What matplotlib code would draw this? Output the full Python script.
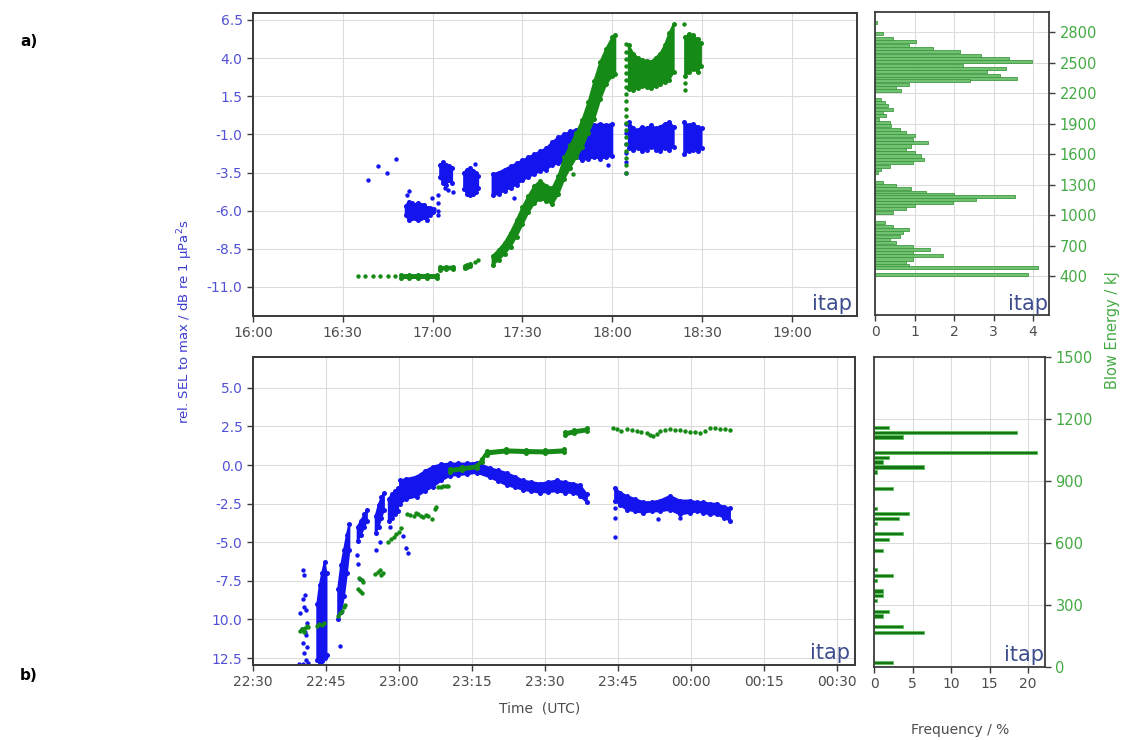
#!/usr/bin/env python3
"""
SEL relative to max and blow energy over time, two piling sessions a) and b),
each with a blow energy histogram on the right.
"""

import numpy as np
import matplotlib
matplotlib.use('Agg')
import matplotlib.pyplot as plt

nan = np.nan

# ---------------- a) session, time in minutes after 16:00 ----------------
# rel. SEL (dB): dense clouds given as lower / upper edge per time, NaN splits clouds
sel_a_t = [51, 52, 53, 54, 55, 56, 57, 58, 59, 60, nan,
           62.5, 63.5, 64.5, 65.5, 66.5, nan,
           70.5, 71.5, 72.5, 73.5, 74.5, 75.2, nan,
           80, 82, 84, 86, 88, 90, 92, 94, 96, 98, 100, 102, 104, 106, 108, 110, 112, 114, 116, 118, 120, nan,
           125.5, 127, 128.5, 130, 131.5, 133, 134.5, 136, 137.5, 139, 140.5, nan,
           144, 145.5, 147, 148.5, 149.8]
sel_a_lo = [-6.3, -6.6, -6.5, -6.5, -6.6, -6.5, -6.4, -6.6, -6.3, -6.1, nan,
            -3.8, -4.2, -4.3, -4.0, -4.2, nan,
            -4.6, -4.9, -5.0, -4.9, -4.8, -4.5, nan,
            -5.0, -4.9, -4.7, -4.5, -4.3, -4.0, -3.8, -3.6, -3.4, -3.3, -3.0, -2.9, -2.8, -2.6, -2.5, -2.7, -2.6, -2.5, -2.6, -2.5, -2.4, nan,
            -1.9, -2.0, -1.9, -2.1, -2.0, -1.8, -2.0, -2.1, -1.9, -2.0, -1.8, nan,
            -2.3, -2.1, -2.0, -2.1, -1.9]
sel_a_hi = [-5.7, -5.4, -5.5, -5.6, -5.5, -5.6, -5.6, -5.8, -5.8, -5.9, nan,
            -3.0, -2.8, -3.0, -3.1, -3.2, nan,
            -3.5, -3.3, -3.2, -3.4, -3.5, -3.7, nan,
            -3.6, -3.5, -3.3, -3.1, -2.9, -2.7, -2.5, -2.3, -2.1, -1.9, -1.5, -1.2, -1.0, -0.8, -0.7, -0.6, -0.5, -0.4, -0.3, -0.4, -0.3, nan,
            -0.2, -0.6, -0.7, -0.5, -0.6, -0.4, -0.6, -0.5, -0.3, -0.2, -0.5, nan,
            -0.2, -0.4, -0.3, -0.5, -0.6]
# single SEL points
sel_a_pt_t = [38.4, 41.6, 44.6, 47.6, 51.5, 52.0, 59.7, 60.5, 61.8, 61.8, 61.8, 61.8, 64.0, 65.2, 66.8,
              74.3, 87.3, 118.4, 124.6, 124.6, 124.6, 124.6, 124.6, 124.6]
sel_a_pt_v = [-4.0, -3.05, -3.5, -2.6, -5.0, -4.7, -5.2, -5.9, -5.0, -5.5, -6.0, -6.3, -4.5, -4.65, -4.8,
              -2.96, -5.2, -3.0, -0.3, -0.9, -1.6, -2.2, -2.8, -3.5]

# blow energy (kJ), clouds as lower / upper edge
en_a_t = [49.5, 52, 55, 58, 61.5, nan,
          62.3, 64.5, 66.7, nan,
          70.7, 71.6, 72.6, nan,
          80, 82, 84, 86, 88, 90, 92, 94, 96, 98, 100, 102, 104, 106, 108, 110, 112, 114, 116, 118, 120, 121, nan,
          125.5, 127, 128.5, 130, 131.5, 133, 134.5, 136, 137.5, 139, 140.5, nan,
          144.3, 145.5, 147, 148.5, 149.6]
en_a_lo = [398, 398, 398, 398, 398, nan,
           475, 478, 480, nan,
           490, 500, 508, nan,
           520, 570, 630, 700, 800, 920, 1040, 1130, 1170, 1150, 1120, 1220, 1370, 1480, 1580, 1680, 1820, 1960, 2150, 2300, 2380, 2400, nan,
           2250, 2240, 2260, 2280, 2270, 2260, 2280, 2300, 2320, 2340, 2420, nan,
           2380, 2420, 2450, 2420, 2480]
en_a_hi = [422, 422, 422, 422, 422, nan,
           500, 503, 505, nan,
           512, 520, 528, nan,
           610, 670, 740, 840, 960, 1090, 1200, 1300, 1350, 1300, 1280, 1400, 1580, 1700, 1820, 1950, 2120, 2330, 2520, 2650, 2760, 2780, nan,
           2680, 2600, 2560, 2540, 2530, 2520, 2560, 2600, 2680, 2800, 2890, nan,
           2760, 2790, 2780, 2740, 2700]
en_a_pt_t = [35, 37.5, 40, 42.5, 45, 47.5, 74.0, 75.0, 107.0,
             124.6, 124.6, 124.6, 124.6, 124.6, 124.6, 124.6, 124.6, 124.6, 124.6,
             124.6, 124.6, 124.6, 124.6, 124.6, 124.6, 124.6, 124.6, 124.6,
             143.8, 144.3, 144.3]
en_a_pt_e = [410, 410, 410, 410, 410, 410, 550, 572, 1420,
             1430, 1500, 1570, 1640, 1710, 1780, 1850, 1920, 1990, 2060,
             2130, 2200, 2270, 2340, 2410, 2480, 2550, 2620, 2690,
             2895, 2240, 2310]

# blow energy histogram a)
hist_a_energy = [2900, 2785, 2740, 2708, 2675, 2642, 2610, 2576, 2543, 2510, 2478, 2445, 2412, 2379, 2350,
                 2323, 2290, 2257, 2225, 2143, 2110, 2077, 2044, 2011, 1978, 1945, 1912, 1880, 1847, 1814,
                 1781, 1748, 1715, 1682, 1649, 1617, 1584, 1551, 1518, 1485, 1452, 1419, 1327, 1294, 1262,
                 1229, 1205, 1185, 1158, 1125, 1095, 1063, 1031, 926, 893, 860, 828, 795, 762, 729, 696,
                 666, 637, 604, 571, 538, 510, 489, 420]
hist_a_freq = [0.06, 0.2, 0.45, 1.04, 0.87, 1.46, 2.14, 2.69, 3.4, 3.96, 2.22, 3.32, 2.82, 3.16, 3.58,
               2.4, 0.87, 0.53, 0.66, 0.15, 0.24, 0.32, 0.45, 0.2, 0.28, 0.11, 0.37, 0.41, 0.62, 0.79,
               1.0, 0.96, 1.34, 0.92, 0.79, 1.0, 1.17, 1.25, 0.96, 0.37, 0.15, 0.07, 0.2, 0.53, 0.92,
               1.3, 2.0, 3.54, 2.56, 1.97, 1.0, 0.79, 0.45, 0.24, 0.45, 0.87, 0.7, 0.62, 0.37, 0.53, 0.96,
               1.38, 0.96, 1.72, 0.96, 0.79, 0.87, 4.13, 3.87]

# ---------------- b) session, time in minutes after 22:30 ----------------
sel_b_t = [13.2, 13.7, 14.2, 14.7, 15.1, nan,
           17.5, 18.1, 18.7, 19.3, 19.8, nan,
           21.5, 22.2, 22.9, 23.4, nan,
           25.2, 25.8, 26.4, 26.9, nan,
           27.9, 28.5, 29.1, 29.8, nan,
           30.2, 31.5, 33.6, 35.3, 37, 38.7, 40.5, 42.2, 43.9, 46, 48.7, 50.4, 52.1, 53.8, 55.5, 57.2, 59,
           60.7, 62.4, 64.1, 65.8, 67.2, 68.6, nan,
           74.4, 75.5, 76.8, 78.5, 80.2, 81.9, 83.6, 85.7, 87.7, 89.8, 91.2, 92.5, 93.9, 95.3, 96.7, 98.0]
sel_b_lo = [-12.6, -12.8, -12.7, -12.5, -12.3, nan,
            -10.0, -9.5, -8.5, -7.0, -5.5, nan,
            -4.9, -4.5, -4.0, -3.6, nan,
            -4.4, -4.0, -3.4, -2.9, nan,
            -3.6, -3.4, -3.2, -3.0, nan,
            -2.5, -2.2, -2.05, -1.7, -1.4, -1.0, -0.7, -0.65, -0.6, -0.5, -0.8, -1.05, -1.3, -1.45, -1.6,
            -1.7, -1.8, -1.75, -1.7, -1.8, -1.8, -2.0, -2.4, nan,
            -2.3, -2.6, -2.9, -3.0, -3.1, -3.0, -3.0, -2.9, -3.2, -3.1, -3.0, -3.1, -3.2, -3.2, -3.4, -3.6]
sel_b_hi = [-9.0, -7.8, -7.0, -6.3, -7.0, nan,
            -8.0, -6.5, -5.5, -4.5, -3.8, nan,
            -4.0, -3.6, -3.2, -2.9, nan,
            -3.3, -2.6, -2.1, -1.8, nan,
            -2.2, -1.9, -1.7, -1.5, nan,
            -1.0, -0.9, -0.75, -0.4, -0.1, 0.05, 0.1, 0.1, 0.1, 0.15, -0.2, -0.35, -0.5, -0.75, -1.0,
            -1.1, -1.2, -1.1, -1.0, -1.1, -1.2, -1.3, -1.9, nan,
            -1.5, -1.8, -2.0, -2.2, -2.4, -2.4, -2.3, -2.0, -2.3, -2.3, -2.4, -2.4, -2.5, -2.5, -2.7, -2.8]
sel_b_pt_t = [10.3, 10.5, 10.6, 10.2, 9.6, 10.9, 11.0, 10.0, 10.8, 10.3, 11.1, 10.5, 10.9, 9.5, 10.2, 11.2,
              10.7, 10.4, 17.8, 21.4, 21.6, 21.9, 25.2, 26.0, 28.2, 30.8, 31.5, 31.8, 74.4, 74.4, 74.4,
              87.7, 83.3]
sel_b_pt_v = [-6.8, -7.1, -8.4, -8.7, -9.6, -9.4, -10.2, -10.6, -11.0, -11.5, -11.8, -12.2, -12.6, -12.9,
              -12.9, -12.8, -10.8, -9.2, -11.7, -5.8, -6.4, -7.4, -5.5, -5.0, -4.0, -4.6, -5.4, -5.7,
              -2.8, -3.4, -4.65, -3.4, -3.5]

en_b_t = [40.5, 43, 46, 47, 48, 52, 56, 60, 63.8, nan,
          64.1, 66, 68.6]
en_b_lo = [940, 948, 958, 990, 1025, 1035, 1032, 1030, 1035, nan,
           1118, 1128, 1138]
en_b_hi = [955, 962, 972, 1005, 1040, 1050, 1047, 1045, 1050, nan,
           1133, 1143, 1152]
en_b_pt_t = [9.6, 10.1, 10.6, 11.0, 11.3, 10.4, 13.2, 13.6, 14.2, 14.6,
             17.4, 17.8, 18.2, 18.6, 19.0, 21.5, 21.9, 22.3, 21.8, 22.3, 22.5,
             25.1, 25.6, 26.0, 26.4, 26.8, 27.8, 28.4, 28.9, 29.4, 29.9, 30.4,
             31.6, 32.3, 33.0, 33.5, 34.0, 34.5, 35.0, 35.5, 36.0, 36.7, 37.4, 37.7,
             38.1, 38.6, 39.1, 39.6, 40.1,
             74.0, 74.8, 75.6, 76.8, 77.8, 78.8, 79.8, 80.9, 81.5, 82.2, 83.0, 83.6, 84.6,
             85.7, 86.7, 87.7, 88.7, 89.8, 90.8, 91.8, 92.9, 93.9, 95.0, 96.0, 97.0, 98.0]
en_b_pt_e = [165, 175, 180, 190, 185, 160, 190, 200, 195, 205,
             240, 255, 265, 280, 290, 370, 360, 350, 425, 415, 405,
             445, 455, 462, 440, 448, 600, 615, 625, 640, 650, 665,
             735, 730, 727, 740, 735, 725, 720, 730, 727, 711, 760, 768,
             865, 868, 870, 872, 872,
             1155, 1150, 1139, 1147, 1143, 1139, 1135, 1131, 1122, 1114, 1125, 1139, 1143,
             1147, 1145, 1143, 1139, 1135, 1133, 1131, 1139, 1155, 1152, 1150, 1147, 1143]

hist_b_energy = [1161, 1137, 1113, 1037, 1016, 992, 968, 944, 863, 766, 745, 718, 694, 645, 618, 565,
                 471, 444, 419, 368, 347, 323, 269, 247, 197, 169, 21]
hist_b_freq = [2.0, 18.6, 3.8, 21.2, 1.9, 1.1, 6.5, 0.4, 2.5, 0.4, 4.6, 3.2, 0.4, 3.8, 1.9, 1.2,
               0.4, 2.5, 0.4, 1.2, 1.2, 0.4, 1.9, 1.2, 3.8, 6.5, 2.5]

# axis ticks
ticks_a_min = [0, 30, 60, 90, 120, 150, 180]
ticks_a_lbl = ['16:00', '16:30', '17:00', '17:30', '18:00', '18:30', '19:00']
ticks_b_min = [0, 15, 30, 45, 60, 75, 90, 105, 120]
ticks_b_lbl = ['22:30', '22:45', '23:00', '23:15', '23:30', '23:45', '00:00', '00:15', '00:30']
yticks_a = [6.5, 4.0, 1.5, -1.0, -3.5, -6.0, -8.5, -11.0]
yticks_a_lbl = ['6.5', '4.0', '1.5', '-1.0', '-3.5', '-6.0', '-8.5', '-11.0']
yticks_b = [5.0, 2.5, 0.0, -2.5, -5.0, -7.5, -10.0, -12.5]
yticks_b_lbl = ['5.0', '2.5', '0.0', '-2.5', '-5.0', '-7.5', '10.0', '12.5']
eticks_a = [400, 700, 1000, 1300, 1600, 1900, 2200, 2500, 2800]
eticks_b = [0, 300, 600, 900, 1200, 1500]

BLUE = '#1414ee'
GREEN = '#168a16'
BLUE_TXT = '#5252d6'
GREEN_TXT = '#44aa44'
GRAY_TXT = '#4d4d4d'
SPINE = '#3c3c3c'
GRID = '#dcdcdc'
ITAP = '#3e4d8e'


def style_frame(ax):
    for s in ax.spines.values():
        s.set_color(SPINE)
        s.set_linewidth(1.3)
    ax.grid(True, color=GRID, linewidth=0.8)
    ax.set_axisbelow(True)
    ax.tick_params(direction='out', length=4, width=1, color=SPINE, labelsize=10)


def draw_cloud(ax, t, lo, hi, color):
    t, lo, hi = np.array(t), np.array(lo), np.array(hi)
    ax.fill_between(t, lo, hi, color=color, linewidth=1.4, edgecolor=color)
    ax.scatter(t, lo, s=13, color=color, linewidths=0)
    ax.scatter(t, hi, s=13, color=color, linewidths=0)


def itap(ax):
    ax.text(0.992, 0.005, 'itap', transform=ax.transAxes, ha='right', va='bottom',
            fontsize=15, color=ITAP, zorder=10)


fig = plt.figure(figsize=(11.23, 7.40), dpi=100)
ax_a = fig.add_axes([0.2253, 0.5730, 0.5378, 0.4095])
ax_ah = fig.add_axes([0.7792, 0.5743, 0.1549, 0.4095])
ax_b = fig.add_axes([0.2253, 0.1014, 0.5361, 0.4162])
ax_bh = fig.add_axes([0.7783, 0.0986, 0.1523, 0.4189])

# ---- main panels ----
for ax, xmax, xt, xl, yt, yl, ylim in [
        (ax_a, 201.7, ticks_a_min, ticks_a_lbl, yticks_a, yticks_a_lbl, (-12.9, 6.96)),
        (ax_b, 123.7, ticks_b_min, ticks_b_lbl, yticks_b, yticks_b_lbl, (-12.95, 7.0))]:
    style_frame(ax)
    ax.set_xlim(0, xmax)
    ax.set_ylim(*ylim)
    ax.set_xticks(xt)
    ax.set_xticklabels(xl, color=GRAY_TXT)
    ax.set_yticks(yt)
    ax.set_yticklabels(yl, color=BLUE_TXT)

draw_cloud(ax_a, sel_a_t, sel_a_lo, sel_a_hi, BLUE)
ax_a.scatter(sel_a_pt_t, sel_a_pt_v, s=10, color=BLUE, linewidths=0)
draw_cloud(ax_b, sel_b_t, sel_b_lo, sel_b_hi, BLUE)
ax_b.scatter(sel_b_pt_t, sel_b_pt_v, s=10, color=BLUE, linewidths=0)

# blow energy on hidden twin axes, same scale as the histograms
ax_ae = ax_a.twinx()
ax_ae.set_ylim(20, 3000)
ax_ae.set_yticks([])
draw_cloud(ax_ae, en_a_t, en_a_lo, en_a_hi, GREEN)
ax_ae.scatter(en_a_pt_t, en_a_pt_e, s=10, color=GREEN, linewidths=0)
itap(ax_ae)

ax_be = ax_b.twinx()
ax_be.set_ylim(0, 1500)
ax_be.set_yticks([])
draw_cloud(ax_be, en_b_t, en_b_lo, en_b_hi, GREEN)
ax_be.scatter(en_b_pt_t, en_b_pt_e, s=10, color=GREEN, linewidths=0)
itap(ax_be)
for ax in (ax_ae, ax_be):
    for s in ax.spines.values():
        s.set_color(SPINE)
        s.set_linewidth(1.3)

# ---- histograms ----
ax_ah.barh(hist_a_energy, hist_a_freq, height=30, color='#72c172', edgecolor='#3f9a3f', linewidth=0.6)
ax_ah.set_xlim(0, 4.4)
ax_ah.set_ylim(20, 3000)
ax_ah.set_xticks([0, 1, 2, 3, 4])
ax_ah.set_yticks(eticks_a)

ax_bh.barh(hist_b_energy, hist_b_freq, height=15, color='#157515', edgecolor='#62c262', linewidth=0.7)
ax_bh.set_xlim(0, 22.2)
ax_bh.set_ylim(0, 1500)
ax_bh.set_xticks([0, 5, 10, 15, 20])
ax_bh.set_yticks(eticks_b)

for ax in (ax_ah, ax_bh):
    style_frame(ax)
    ax.yaxis.tick_right()
    ax.tick_params(axis='y', labelcolor=GREEN_TXT, labelsize=10.5)
    ax.tick_params(axis='x', labelcolor=GRAY_TXT)
    itap(ax)

# ---- labels ----
fig.text(0.1647, 1 - 322 / 740, 'rel. SEL to max / dB re 1 \u00b5Pa$^2$s', rotation=90,
         ha='center', va='center', fontsize=9.5, color='#3c3cd0')
fig.text(0.991, 1 - 330 / 740, 'Blow Energy / kJ', rotation=90, ha='center', va='center',
         fontsize=10.5, color=GREEN_TXT)
fig.text(540 / 1123, 1 - 708 / 740, 'Time  (UTC)', ha='center', va='center',
         fontsize=10, color=GRAY_TXT)
fig.text(960 / 1123, 1 - 730 / 740, 'Frequency / %', ha='center', va='center',
         fontsize=10, color=GRAY_TXT)
fig.text(0.018, 1 - 42 / 740, 'a)', fontsize=11, fontweight='bold', va='center')
fig.text(0.018, 1 - 675 / 740, 'b)', fontsize=11, fontweight='bold', va='center')

fig.savefig('out.png', dpi=100)
